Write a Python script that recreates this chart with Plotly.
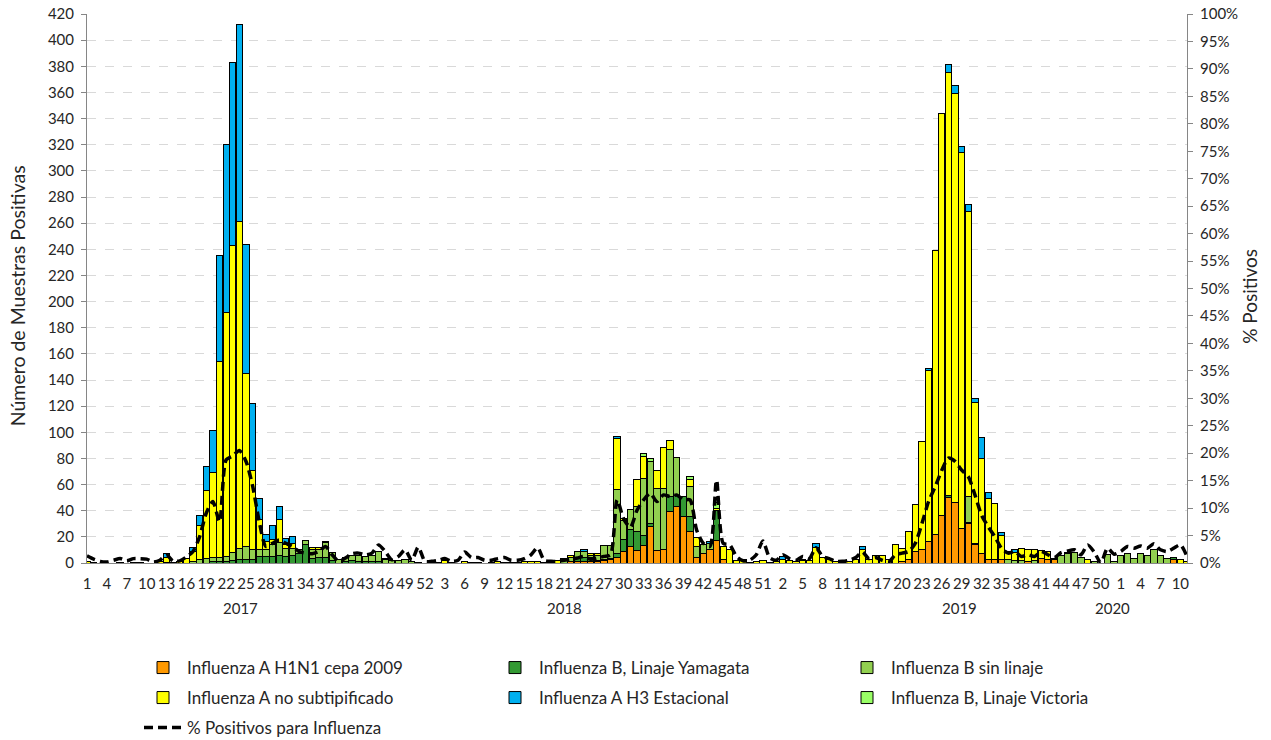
import plotly.graph_objects as go

# ---- Weekly categories (epidemiological weeks) ----
years = [2017, 2018, 2019, 2020]
weeks_in_year = [52, 52, 52, 11]
year_label_pos = [23.1, 72.1, 131.7, 154.8]   # x position of each year caption

# ---- Positive samples per week, by virus type (one value per week) ----
h1n1_2009 = [
    # 2017
    0, 0, 0, 0, 0, 0, 0, 0, 0, 0, 0, 0, 0, 0, 0, 0, 0, 0, 0, 0, 0, 0, 0, 0, 0, 0,
    0, 0, 0, 0, 0, 0, 0, 0, 0, 0, 0, 0, 0, 0, 0, 0, 0, 0, 0, 0, 0, 0, 0, 0, 0, 0,
    # 2018
    0, 0, 0, 0, 0, 0, 0, 0, 0, 0, 0, 0, 0, 0, 0, 0, 0, 0, 0, 0, 0, 1.4, 1.5, 1.5, 1, 1,
    1.6, 2.3, 4.4, 8.7, 12.6, 9.5, 13.3, 28, 9.5, 10.5, 39.5, 43.3, 35.6, 24, 4.4, 7, 10, 17, 2.8, 0, 0, 0, 0, 0, 0, 0,
    # 2019
    0, 0, 0, 0, 0, 0, 0, 0, 0, 0, 0, 0, 0, 0, 0, 0, 0, 0, 0, 1, 2.3, 8.7, 10.5, 16.4, 21.5, 36,
    50, 46, 26.7, 30, 14, 7, 2.3, 2.3, 2.3, 0, 0, 0, 1, 0, 3.6, 2.3, 2.3, 0, 0, 0, 0, 0, 0, 0, 0, 0,
    # 2020
    0, 0, 0, 0, 0, 0, 0, 0, 2.3, 0, 0,
]

b_yamagata = [
    # 2017
    0, 0, 0, 0, 0, 0, 0, 0, 0, 0, 0, 0, 0, 0, 0, 0, 0, 0, 0, 1, 1, 1, 2, 3, 3, 3,
    5, 5, 5, 5.5, 5, 6, 7, 14, 3.8, 4, 4.5, 2, 0, 1, 2, 1, 1, 1, 1, 0, 0, 0, 0, 0, 0, 0,
    # 2018
    0, 0, 0, 0, 0, 0, 0, 0, 0, 0, 0, 0, 0, 0, 0, 0, 0, 0, 0, 0, 0, 0, 3, 3, 3, 1,
    1, 1.3, 3, 9, 12.8, 14.6, 7.5, 2, 0, 0, 11.5, 8, 15, 11.5, 0, 0, 0, 23, 0, 0, 0, 0, 0, 0, 0, 0,
    # 2019
    0, 0, 0, 0, 0, 0, 0, 0, 0, 0, 0, 0, 0, 0, 0, 0, 0, 0, 0, 0, 0, 0, 0, 0, 0, 0,
    2, 0, 0, 1, 1, 0, 0, 0, 0, 0, 0, 0, 0, 0, 0, 0, 0, 0, 0, 0, 0, 0, 0, 0, 0, 0,
    # 2020
    0, 0, 0, 0, 0, 0, 0, 0, 2, 0, 0,
]

b_sin_linaje = [
    # 2017
    0, 0, 0, 0, 0, 0, 0, 0, 0, 0, 0, 0, 0.5, 0, 0, 0, 1, 2.5, 3.5, 3, 3, 4, 6, 8, 10, 7,
    5, 5, 9, 10, 6, 5, 3, 3.5, 6.4, 6, 11, 6, 3, 3, 4, 5, 4, 4.5, 7.5, 3, 2, 2, 2.5, 1, 0.5, 0,
    # 2018
    0, 0, 0, 0, 0, 0, 0, 0, 0, 0, 0, 0, 0, 0, 0, 0, 0, 0, 0, 0, 1.6, 3, 4, 4, 1.5, 3.5,
    11, 10, 48.7, 15, 15.4, 19.2, 44, 48, 47.5, 46.5, 36, 29.5, 0, 23, 8, 7, 4.6, 0, 0, 0, 0, 0, 0, 0, 0, 0,
    # 2019
    0, 0, 0, 0, 0, 0, 0, 0, 0, 0, 0, 0, 0, 0, 0, 0, 0, 0, 0, 0, 0, 0, 0, 0, 0, 0,
    0, 0, 0, 19.5, 0, 0, 0, 0, 0, 2.3, 2, 2, 0, 2, 0, 0, 0, 5.4, 6.9, 8.4, 4.3, 0, 1.3, 0, 6.4, 1.5,
    # 2020
    5.4, 7, 3.3, 7, 5.4, 10, 5.4, 3.3, 0, 0, 0,
]

a_no_subtip = [
    # 2017
    1.5, 0.5, 0, 0, 0, 0.5, 0, 0.5, 0.5, 0, 0, 1.5, 3.5, 0.5, 1.5, 3.5, 8, 26, 52, 65, 150, 187, 235, 250, 132, 61,
    23, 6.5, 4, 18, 3, 4, 0, 0, 1.3, 1.5, 1, 0, 0, 0, 0, 0, 0, 0, 0, 0.5, 0, 0, 0.5, 0, 0, 0,
    # 2018
    0.5, 0.5, 2, 0.5, 0, 1, 0.5, 0.5, 0, 0.5, 1, 0.5, 0.5, 0.5, 1, 1.5, 1, 0.5, 1, 2, 2, 1.5, 0, 0, 1.5, 1.5,
    0, 0, 39, 1.7, 0, 20.5, 17, 0, 14, 31, 6.5, 0, 0, 5.5, 7, 0, 0, 2, 9.8, 10, 2, 2.8, 0.5, 1, 2, 0.5,
    # 2019
    1, 3, 2, 1, 2, 2, 12, 4, 3, 1, 0.5, 1, 3, 10, 3, 6, 6, 2.3, 13.8, 10, 21.7, 36, 82.5, 131, 217.5, 308,
    323, 313, 287.3, 218.5, 108, 73, 47, 43.2, 18.7, 6.4, 6, 9.3, 9, 8.5, 5.9, 6.4, 1.3, 0, 1, 0, 0, 2.3, 0, 0, 0, 0,
    # 2020
    0, 0, 0, 0, 0, 0, 0, 0, 0, 2.3, 1,
]

a_h3 = [
    # 2017
    0, 0, 0, 0, 0, 0, 0, 0, 0, 0, 0, 0, 3, 0, 0, 0, 2.5, 7.5, 18, 32, 81.5, 128, 140, 151, 99, 51,
    16.5, 5, 10.5, 10, 5, 5.5, 0, 0, 0, 0, 0, 0, 0, 0, 0, 0, 0, 0, 0, 0, 0, 0, 0, 0, 0, 0,
    # 2018
    0, 0, 0, 0, 0, 0, 0, 0, 0, 0, 0, 0, 0, 0, 0, 0, 0, 0, 0, 0, 0, 0, 0, 1.5, 0, 0,
    0, 0, 1.5, 0, 0, 0, 0, 0, 0, 0, 0, 0, 0, 0, 0, 0, 1.8, 0, 0, 0, 0, 0, 0, 0, 0, 0,
    # 2019
    0, 2, 0, 0, 1, 0, 3, 0, 0, 0, 0, 0, 0, 3, 0, 0, 0, 0, 0, 0, 0, 0, 0, 1.5, 0, 0,
    6, 6, 5, 5, 3, 16, 4.4, 0, 2.3, 0, 2, 0, 0, 0, 0, 0, 0, 0, 0, 0, 0, 0, 0, 0, 0, 0,
    # 2020
    0, 0, 0, 0, 0, 0, 0, 0, 0, 0, 0,
]

b_victoria = [
    # 2017
    0, 0, 0, 0, 0, 0, 0, 0, 0, 0, 0, 0, 0, 0, 0, 0, 0, 0, 0, 0, 0, 0, 0, 0, 0, 0,
    0, 0, 0, 0, 0, 0, 0, 0, 0, 0, 0, 0, 0, 0, 0, 0, 0, 0, 0, 0, 0, 0, 0, 0, 0, 0,
    # 2018
    0, 0, 0, 0, 0, 0, 0, 0, 0, 0, 0, 0, 0, 0, 0, 0, 0, 0, 0, 0, 0, 0, 0, 0, 0, 0,
    0, 0, 0, 0, 0, 0, 1.8, 2, 0, 0, 0, 0, 0, 2, 0, 0, 0, 4.4, 0, 0, 0, 0, 0, 0, 0, 0,
    # 2019
    0, 0, 0, 0, 0, 0, 0, 0, 0, 0, 0, 0, 0, 0, 0, 0, 0, 0, 0, 0, 0, 0, 0, 0, 0, 0,
    0, 0, 0, 0, 0, 0, 0, 0, 0, 0, 0, 0, 0, 0, 0, 0, 0, 0, 0, 0, 0, 0, 0, 0, 0, 0,
    # 2020
    0, 0, 0, 0, 0, 0, 0, 0, 0, 0, 0,
]

# ---- Percentage of samples positive for influenza ----
pct_positive = [
    # 2017
    1.3, 0.7, 0.3, 0.2, 0.5, 0.8, 0.4, 0.8, 0.8, 0.7, 0.2, 0.5, 1.5, 0.3, 0.4, 1.1, 2.1, 4.8, 9.1, 11.2, 7.5, 18.8, 19.5, 20.5, 18.5, 14,
    7.5, 3.0, 3.6, 4.2, 3.6, 3.0, 2.1, 1.8, 1.7, 2.1, 3.0, 1.5, 0.3, 0.9, 1.7, 1.8, 1.5, 1.8, 3.3, 2.1, 0.6, 1.2, 2.4, 0.5, 2.9, 0.3,
    # 2018
    0.3, 0.5, 0.8, 0.3, 0.5, 2.0, 1.0, 1.0, 0.5, 0.5, 0.8, 1.0, 0.5, 0.5, 0.8, 1.5, 2.8, 0.5, 0.3, 0.3, 0.5, 0.7, 0.9, 1.2, 0.7, 0.9,
    1.2, 1.5, 11.5, 8, 6.5, 9.6, 11.5, 12.7, 11.2, 12.4, 12.1, 12.4, 11.5, 11.5, 6, 3.6, 3, 15.1, 3.6, 3.3, 1.2, 0.4, 0.5, 1.5, 4, 1,
    # 2019
    0.5, 1.5, 0.8, 0.5, 1.2, 0.8, 2.8, 1.2, 0.8, 0.3, 0.3, 0.5, 1, 2, 0.8, 1, 0.5, 0.2, 1.5, 1.8, 2.1, 3.6, 7.2, 11.2, 13.9, 16.9,
    19.1, 18.5, 16.9, 15.7, 12.4, 8.7, 6.6, 4.8, 2.7, 1.8, 2.1, 1.2, 1.5, 1.2, 2.1, 1.5, 1.0, 1.9, 2.2, 2.4, 1.5, 3.3, 2.0, 0, 2.7, 1.6,
    # 2020
    2.1, 3, 2.7, 3.1, 2.7, 3.5, 2.4, 2.1, 2.7, 3.3, 1.2,
]

# ---- Category axis: week numbers grouped by year ----
week_labels = []
for n in weeks_in_year:
    week_labels.extend(str(w) for w in range(1, n + 1))
x_idx = list(range(len(week_labels)))
tick_idx = x_idx[::3]
tick_txt = [week_labels[i] for i in tick_idx]

FONT = "Lato"
TXT = "#262626"
AXIS = "#868686"

bar_series = [
    ("Influenza A H1N1 cepa 2009", h1n1_2009, "#FF9900", "legend"),
    ("Influenza B, Linaje Yamagata", b_yamagata, "#339933", "legend"),
    ("Influenza B sin linaje", b_sin_linaje, "#92D050", "legend"),
    ("Influenza A no subtipificado", a_no_subtip, "#FFFF00", "legend2"),
    ("Influenza A H3 Estacional", a_h3, "#00B0F0", "legend2"),
    ("Influenza B, Linaje Victoria", b_victoria, "#99FF66", "legend2"),
]

fig = go.Figure()
for name, vals, color, lg in bar_series:
    fig.add_trace(go.Bar(
        x=x_idx, y=vals, name=name, legend=lg,
        marker=dict(color=color, line=dict(color="#000000", width=1)),
    ))

fig.add_trace(go.Scatter(
    x=x_idx, y=pct_positive, name="% Positivos para Influenza", yaxis="y2",
    legend="legend3", mode="lines",
    line=dict(color="#000000", width=3.5, dash="9px,5px", shape="spline", smoothing=0.7),
))

# Three legend rows laid out as a 3-column grid below the chart
legend_common = dict(
    orientation="h", xref="container", yref="container",
    x=139 / 1271, xanchor="left", yanchor="middle", traceorder="normal",
    font=dict(family=FONT, size=17, color=TXT), entrywidth=299,
    bgcolor="rgba(0,0,0,0)", itemwidth=38, tracegroupgap=0,
)

fig.update_layout(
    width=1271, height=740,
    margin=dict(l=87, r=84, t=14, b=177, autoexpand=False),
    paper_bgcolor="white", plot_bgcolor="white",
    barmode="stack", bargap=0.05,
    font=dict(family=FONT, size=15, color=TXT),
    xaxis=dict(
        range=[0, len(x_idx) - 1], tickmode="array", tickvals=tick_idx, ticktext=tick_txt,
        showline=True, linecolor=AXIS, linewidth=1, ticks="", showgrid=False, zeroline=False,
        tickfont=dict(family=FONT, size=15, color=TXT), tickangle=0, ticklabelstandoff=7,
        automargin=False,
    ),
    yaxis=dict(
        range=[0, 420], dtick=20, showline=True, linecolor=AXIS, linewidth=1,
        ticks="outside", ticklen=5, tickcolor=AXIS, showgrid=True, gridcolor="#D9D9D9",
        griddash="dash", gridwidth=1, zeroline=False,
        tickfont=dict(family=FONT, size=15, color=TXT), ticklabelstandoff=4,
        automargin=False,
    ),
    yaxis2=dict(
        range=[0, 100], dtick=5, ticksuffix="%", overlaying="y", side="right",
        showline=True, linecolor=AXIS, linewidth=1, ticks="outside", ticklen=5,
        tickcolor=AXIS, showgrid=False, zeroline=False,
        tickfont=dict(family=FONT, size=15, color=TXT), ticklabelstandoff=4,
        automargin=False,
    ),
    legend=dict(legend_common, y=1 - 668 / 740),
    legend2=dict(legend_common, y=1 - 698 / 740),
    legend3=dict(legend_common, y=1 - 728 / 740),
)

# Year captions under the week numbers
for yr, pos in zip(years, year_label_pos):
    fig.add_annotation(x=pos, y=-0.082, xref="x", yref="paper", text=str(yr),
                       showarrow=False, xanchor="center", yanchor="middle",
                       font=dict(family=FONT, size=15, color=TXT))

# Axis titles
fig.add_annotation(x=-0.0636, y=0.486, xref="paper", yref="paper",
                   text="Número de Muestras Positivas", textangle=-90, showarrow=False,
                   xanchor="center", yanchor="middle",
                   font=dict(family=FONT, size=19.5, color=TXT))
fig.add_annotation(x=1.0573, y=0.485, xref="paper", yref="paper",
                   text="% Positivos", textangle=-90, showarrow=False,
                   xanchor="center", yanchor="middle",
                   font=dict(family=FONT, size=19, color=TXT))

fig.write_html("out.html", config={"displayModeBar": False})
